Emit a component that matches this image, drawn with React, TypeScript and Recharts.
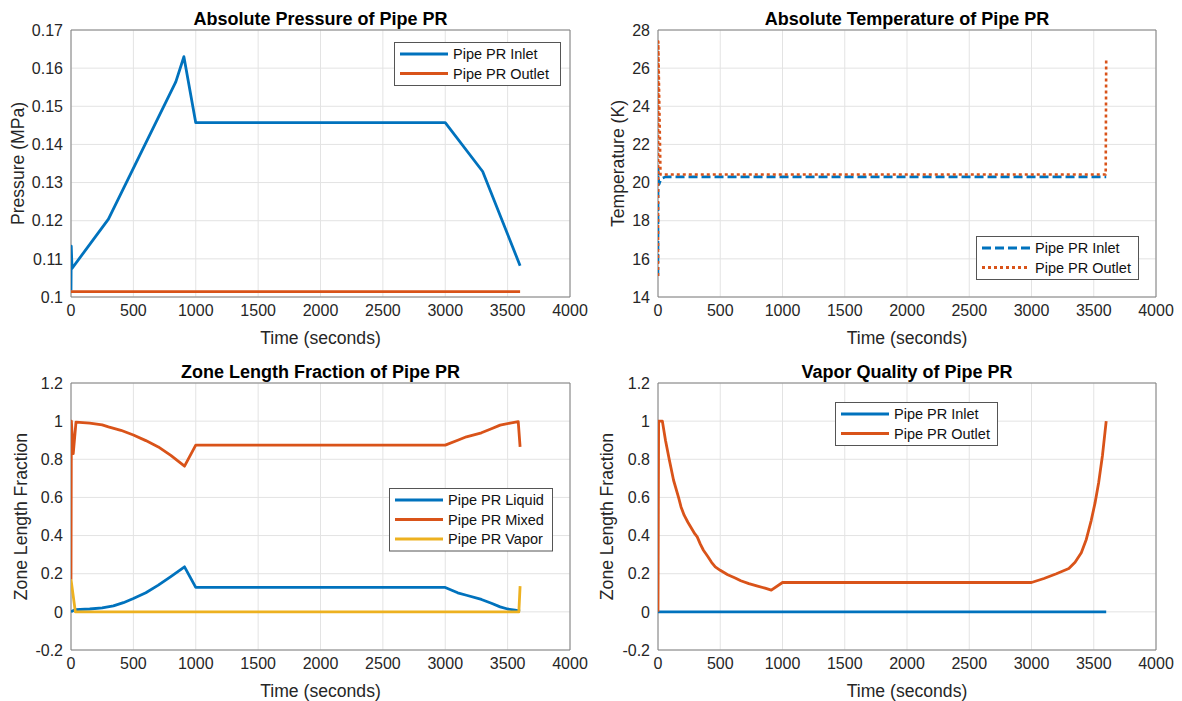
import React from "react";
import {
  LineChart,
  Line,
  XAxis,
  YAxis,
  CartesianGrid,
  ReferenceArea,
} from "recharts";

const FONT = '"Liberation Sans", Arial, Helvetica, sans-serif';
const BLUE = "#0072BD";
const ORANGE = "#D95319";
const YELLOW = "#EDB120";
const INK = "#262626";

// shared x axis (seconds)
const timeTicks = [0, 500, 1000, 1500, 2000, 2500, 3000, 3500, 4000];

// absolute pressure (MPa)
const pressureTicks = [0.1, 0.11, 0.12, 0.13, 0.14, 0.15, 0.16, 0.17];
const pressInletT = [0, 2, 8, 300, 840, 905, 1000, 3000, 3300, 3600];
const pressInletV = [0.1017, 0.1133, 0.1075, 0.1204, 0.1564, 0.163, 0.1457, 0.1457, 0.1329, 0.1082];
const pressOutletT = [0, 3600];
const pressOutletV = [0.1014, 0.1014];

// absolute temperature (K)
const tempTicks = [14, 16, 18, 20, 22, 24, 26, 28];
const tempInletT = [0, 1, 8, 25, 60, 3600];
const tempInletV = [15.1, 20.7, 19.9, 20.2, 20.3, 20.3];
const tempOutletT = [0, 2, 20, 3596, 3600];
const tempOutletV = [15.1, 27.4, 20.42, 20.42, 26.45];

// zone length fraction
const fracTicks = [-0.2, 0, 0.2, 0.4, 0.6, 0.8, 1, 1.2];
const liquidT = [0, 35, 150, 250, 340, 420, 500, 600, 700, 800, 910, 1000, 3000, 3100, 3170, 3290, 3370, 3440, 3500, 3560, 3600];
const liquidV = [0, 0.012, 0.015, 0.021, 0.031, 0.048, 0.07, 0.1, 0.14, 0.185, 0.236, 0.128, 0.128, 0.1, 0.087, 0.065, 0.045, 0.026, 0.015, 0.009, 0.004];
const mixedT = [0, 3, 18, 40, 150, 250, 300, 400, 500, 600, 700, 800, 910, 1000, 3000, 3100, 3170, 3290, 3370, 3440, 3520, 3585, 3600];
const mixedV = [0.17, 1.0, 0.83, 0.995, 0.99, 0.98, 0.97, 0.952, 0.927, 0.898, 0.865, 0.82, 0.764, 0.874, 0.874, 0.9, 0.918, 0.939, 0.96, 0.979, 0.99, 0.997, 0.865];
const vaporT = [0, 35, 3590, 3600];
const vaporV = [0.17, 0, 0, 0.135];

// vapor quality
const qualInletT = [0, 3600];
const qualInletV = [0, 0];
const qualOutletT = [0, 5, 35, 60, 90, 125, 165, 185, 210, 240, 270, 295, 315, 340, 365, 400, 430, 460, 500, 560, 620, 665, 730, 800, 860, 910, 1000, 3000, 3100, 3200, 3300, 3350, 3400, 3440, 3480, 3510, 3540, 3570, 3600];
const qualOutletV = [0, 1.0, 1.0, 0.9, 0.8, 0.69, 0.6, 0.55, 0.507, 0.47, 0.437, 0.41, 0.393, 0.355, 0.323, 0.29, 0.26, 0.236, 0.218, 0.195, 0.178, 0.163, 0.148, 0.135, 0.124, 0.114, 0.154, 0.154, 0.175, 0.2, 0.227, 0.26, 0.31, 0.38, 0.48, 0.57, 0.68, 0.82, 1.0];

const pts = (t: number[], v: number[]) => t.map((x, i) => ({ t: x, v: v[i] }));

type Series = { name: string; data: { t: number; v: number }[]; color: string; dash?: string };
type Rect = { x: number; y: number; w: number; h: number };

const tickStyle = { fill: INK, fontSize: 16, fontFamily: FONT };

const Panel = ({
  rect,
  yDomain,
  yTicks,
  series,
}: {
  rect: Rect;
  yDomain: [number, number];
  yTicks: number[];
  series: Series[];
}) => {
  const W = 72 + rect.w + 24;
  const H = 10 + rect.h + 45;
  return (
    <div style={{ position: "absolute", left: rect.x - 72, top: rect.y - 10 }}>
      <LineChart width={W} height={H} margin={{ top: 10, right: 24, bottom: 5, left: 8 }}>
        <CartesianGrid stroke="#e3e3e3" />
        <XAxis
          dataKey="t"
          type="number"
          domain={[0, 4000]}
          ticks={timeTicks}
          allowDataOverflow
          tickLine={false}
          axisLine={false}
          height={40}
          tick={tickStyle}
        />
        <YAxis
          type="number"
          domain={yDomain}
          ticks={yTicks}
          allowDataOverflow
          tickLine={false}
          axisLine={false}
          width={64}
          tick={tickStyle}
        />
        <ReferenceArea
          x1={0}
          x2={4000}
          y1={yDomain[0]}
          y2={yDomain[1]}
          fill="none"
          stroke="#808080"
          strokeWidth={1}
        />
        {series.map((s) => (
          <Line
            key={s.name}
            data={s.data}
            dataKey="v"
            name={s.name}
            type="linear"
            stroke={s.color}
            strokeWidth={s.dash ? 2.6 : 2.8}
            strokeDasharray={s.dash}
            strokeLinejoin="round"
            dot={false}
            activeDot={false}
            isAnimationActive={false}
          />
        ))}
      </LineChart>
    </div>
  );
};

const Legend = ({ x, y, w, items }: { x: number; y: number; w: number; items: Series[] }) => {
  const rowH = 19.5;
  const h = 4 + rowH * items.length;
  return (
    <g>
      <rect x={x + 0.5} y={y + 0.5} width={w} height={h} fill="#fff" stroke="#555" strokeWidth={1} />
      {items.map((s, i) => {
        const cy = y + 12 + i * rowH;
        return (
          <g key={s.name}>
            <line
              x1={x + 6}
              x2={x + 54}
              y1={cy}
              y2={cy}
              stroke={s.color}
              strokeWidth={2.8}
              strokeDasharray={s.dash}
            />
            <text x={x + 59} y={cy} dominantBaseline="central" fontSize={14.5} fill="#111" fontFamily={FONT}>
              {s.name}
            </text>
          </g>
        );
      })}
    </g>
  );
};

const Labels = ({ rect, title, yLabel, yLabelX }: { rect: Rect; title: string; yLabel: string; yLabelX: number }) => {
  const cx = rect.x + rect.w / 2;
  const cy = rect.y + rect.h / 2;
  return (
    <g fontFamily={FONT}>
      <text x={cx} y={rect.y - 5} textAnchor="middle" fontSize={18} fontWeight="bold" fill="#000">
        {title}
      </text>
      <text x={cx} y={rect.y + rect.h + 47} textAnchor="middle" fontSize={17.6} fill={INK}>
        Time (seconds)
      </text>
      <text
        x={yLabelX}
        y={cy}
        textAnchor="middle"
        dominantBaseline="central"
        fontSize={17.6}
        fill={INK}
        transform={`rotate(-90 ${yLabelX} ${cy})`}
      >
        {yLabel}
      </text>
    </g>
  );
};

const rTL: Rect = { x: 71, y: 30, w: 499, h: 267 };
const rTR: Rect = { x: 658, y: 30, w: 498, h: 267 };
const rBL: Rect = { x: 71, y: 383, w: 499, h: 267 };
const rBR: Rect = { x: 658, y: 383, w: 498, h: 267 };

const pressureSeries: Series[] = [
  { name: "Pipe PR Inlet", data: pts(pressInletT, pressInletV), color: BLUE },
  { name: "Pipe PR Outlet", data: pts(pressOutletT, pressOutletV), color: ORANGE },
];
const tempSeries: Series[] = [
  { name: "Pipe PR Inlet", data: pts(tempInletT, tempInletV), color: BLUE, dash: "9 4" },
  { name: "Pipe PR Outlet", data: pts(tempOutletT, tempOutletV), color: ORANGE, dash: "3 3" },
];
const fracSeries: Series[] = [
  { name: "Pipe PR Liquid", data: pts(liquidT, liquidV), color: BLUE },
  { name: "Pipe PR Mixed", data: pts(mixedT, mixedV), color: ORANGE },
  { name: "Pipe PR Vapor", data: pts(vaporT, vaporV), color: YELLOW },
];
const qualSeries: Series[] = [
  { name: "Pipe PR Inlet", data: pts(qualInletT, qualInletV), color: BLUE },
  { name: "Pipe PR Outlet", data: pts(qualOutletT, qualOutletV), color: ORANGE },
];

export default function App() {
  return (
    <div
      style={{
        position: "absolute",
        left: 0,
        top: 0,
        width: 1182,
        height: 701,
        background: "#fff",
        fontFamily: FONT,
      }}
    >
      <Panel rect={rTL} yDomain={[0.1, 0.17]} yTicks={pressureTicks} series={pressureSeries} />
      <Panel rect={rTR} yDomain={[14, 28]} yTicks={tempTicks} series={tempSeries} />
      <Panel rect={rBL} yDomain={[-0.2, 1.2]} yTicks={fracTicks} series={fracSeries} />
      <Panel rect={rBR} yDomain={[-0.2, 1.2]} yTicks={fracTicks} series={qualSeries} />
      <svg
        width={1182}
        height={701}
        style={{ position: "absolute", left: 0, top: 0, pointerEvents: "none" }}
      >
        <Labels rect={rTL} title="Absolute Pressure of Pipe PR" yLabel="Pressure (MPa)" yLabelX={18} />
        <Labels rect={rTR} title="Absolute Temperature of Pipe PR" yLabel="Temperature (K)" yLabelX={618} />
        <Labels rect={rBL} title="Zone Length Fraction of Pipe PR" yLabel="Zone Length Fraction" yLabelX={21} />
        <Labels rect={rBR} title="Vapor Quality of Pipe PR" yLabel="Zone Length Fraction" yLabelX={607} />
        <Legend x={394} y={42} w={166} items={pressureSeries} />
        <Legend x={976} y={236} w={162} items={tempSeries} />
        <Legend x={389} y={488} w={163} items={fracSeries} />
        <Legend x={835} y={402} w={162} items={qualSeries} />
      </svg>
    </div>
  );
}
